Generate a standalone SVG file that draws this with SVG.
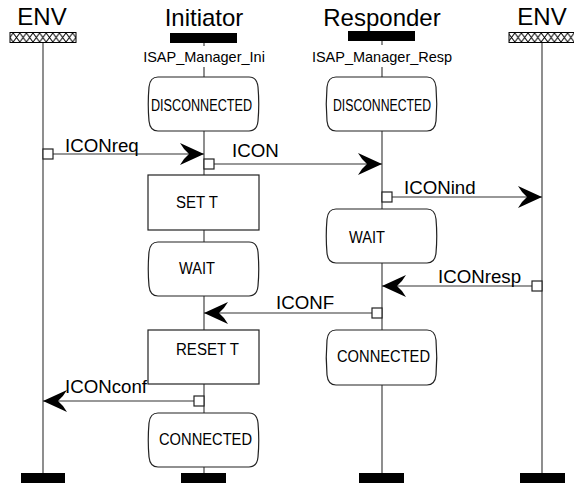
<svg xmlns="http://www.w3.org/2000/svg" width="574" height="483" viewBox="0 0 574 483">
  <style>
    .title { font-family: "Liberation Sans", Arial, sans-serif; font-size: 24px; fill: #000; text-anchor: middle; }
    .inst { font-family: "Liberation Sans", Arial, sans-serif; font-size: 14.5px; fill: #000; text-anchor: middle; }
    .lbl { font-family: "Liberation Sans", Arial, sans-serif; font-size: 18.7px; fill: #000; }
    .box { font-family: "Liberation Sans", Arial, sans-serif; font-size: 16px; fill: #000; }
    .life { stroke: #444; stroke-width: 1.2; fill: none; }
    .shape { fill: #fff; stroke: #222; stroke-width: 1.2; }
    .msg { stroke: #333; stroke-width: 1.2; fill: none; marker-end: url(#head); }
    .port { fill: #fff; stroke: #222; stroke-width: 1.2; }
    .endbar { fill: #000; }
  </style>
  <defs>
    <pattern id="hatch" patternUnits="userSpaceOnUse" x="0" y="33" width="6.6" height="9">
      <rect width="6.6" height="9" fill="#fff"/>
      <path d="M0,0 L6.6,9 M6.6,0 L0,9" stroke="#000" stroke-width="1"/>
    </pattern>
    <marker id="head" markerUnits="userSpaceOnUse" viewBox="-25 -12 26 24" refX="0" refY="0" markerWidth="26" markerHeight="24" orient="auto">
      <path d="M0,0 L-24,-11 Q-20,-4 -15,0 Q-20,4 -24,11 Z" fill="#000"/>
    </marker>
  </defs>

  <!-- environment, left -->
  <g id="env-left">
    <text class="title" x="42" y="25">ENV</text>
    <rect x="10" y="32.5" width="66" height="10" fill="url(#hatch)" stroke="#000" stroke-width="1"/>
    <line class="life" x1="43" y1="43" x2="43" y2="473"/>
    <rect class="endbar" x="21" y="473" width="44" height="10"/>
  </g>

  <!-- Initiator instance -->
  <g id="initiator">
    <text class="title" x="204" y="26">Initiator</text>
    <rect x="170" y="33" width="67" height="10" fill="#000"/>
    <line class="life" x1="204" y1="43" x2="204" y2="46"/>
    <text class="inst" x="204" y="62">ISAP_Manager_Ini</text>
    <line class="life" x1="204" y1="67" x2="204" y2="473"/>
    <rect class="endbar" x="181" y="473" width="45" height="10"/>
  </g>

  <!-- Responder instance -->
  <g id="responder">
    <text class="title" x="382" y="26">Responder</text>
    <rect x="348" y="31" width="67" height="10" fill="#000"/>
    <line class="life" x1="382" y1="41" x2="382" y2="45"/>
    <text class="inst" x="382" y="62">ISAP_Manager_Resp</text>
    <line class="life" x1="382" y1="67" x2="382" y2="473"/>
    <rect class="endbar" x="359" y="473" width="45" height="10"/>
  </g>

  <!-- environment, right -->
  <g id="env-right">
    <text class="title" x="542" y="25">ENV</text>
    <rect x="509" y="32.5" width="66" height="10" fill="url(#hatch)" stroke="#000" stroke-width="1"/>
    <line class="life" x1="542" y1="43" x2="542" y2="473"/>
    <rect class="endbar" x="520" y="473" width="45" height="10"/>
  </g>

  <!-- states and tasks on the Initiator -->
  <g id="ini-disconnected">
    <path class="shape" d="M158,77 H249 Q257,77 258,87 Q259.5,104 258,121 Q257,131 249,131 H158 Q150,131 149,121 Q147.5,104 149,87 Q150,77 158,77 Z"/>
    <text class="box" x="151" y="111" textLength="101" lengthAdjust="spacingAndGlyphs">DISCONNECTED</text>
  </g>
  <g id="ini-set-t">
    <rect class="shape" x="148" y="175" width="111" height="55"/>
    <text class="box" x="176" y="208" textLength="42" lengthAdjust="spacingAndGlyphs">SET T</text>
  </g>
  <g id="ini-wait">
    <path class="shape" d="M158,242 H249 Q257,242 258,252 Q259.5,269 258,286 Q257,296 249,296 H158 Q150,296 149,286 Q147.5,269 149,252 Q150,242 158,242 Z"/>
    <text class="box" x="179" y="274" textLength="36" lengthAdjust="spacingAndGlyphs">WAIT</text>
  </g>
  <g id="ini-reset-t">
    <rect class="shape" x="148" y="330" width="111" height="54"/>
    <text class="box" x="176" y="355" textLength="63" lengthAdjust="spacingAndGlyphs">RESET T</text>
  </g>
  <g id="ini-connected">
    <path class="shape" d="M158,413 H249 Q257,413 258,423 Q259.5,440 258,457 Q257,467 249,467 H158 Q150,467 149,457 Q147.5,440 149,423 Q150,413 158,413 Z"/>
    <text class="box" x="159" y="445" textLength="93" lengthAdjust="spacingAndGlyphs">CONNECTED</text>
  </g>

  <!-- states on the Responder -->
  <g id="resp-disconnected">
    <path class="shape" d="M336,77 H427 Q435,77 436,87 Q437.5,104 436,121 Q435,131 427,131 H336 Q328,131 327,121 Q325.5,104 327,87 Q328,77 336,77 Z"/>
    <text class="box" x="333" y="111" textLength="98" lengthAdjust="spacingAndGlyphs">DISCONNECTED</text>
  </g>
  <g id="resp-wait">
    <path class="shape" d="M336,209 H427 Q435,209 436,219 Q437.5,236 436,253 Q435,263 427,263 H336 Q328,263 327,253 Q325.5,236 327,219 Q328,209 336,209 Z"/>
    <text class="box" x="349" y="243" textLength="36" lengthAdjust="spacingAndGlyphs">WAIT</text>
  </g>
  <g id="resp-connected">
    <path class="shape" d="M336,330 H427 Q435,330 436,340 Q437.5,357.5 436,375 Q435,385 427,385 H336 Q328,385 327,375 Q325.5,357.5 327,340 Q328,330 336,330 Z"/>
    <text class="box" x="337" y="362" textLength="93" lengthAdjust="spacingAndGlyphs">CONNECTED</text>
  </g>

  <!-- messages -->
  <g id="messages">
    <line class="msg" x1="53" y1="154" x2="204" y2="154"/>
    <rect class="port" x="43" y="149" width="10" height="10"/>
    <text class="lbl" x="65" y="152">ICONreq</text>

    <line class="msg" x1="214" y1="164" x2="382" y2="164"/>
    <rect class="port" x="204" y="159" width="10" height="10"/>
    <text class="lbl" x="232" y="157">ICON</text>

    <line class="msg" x1="392" y1="197" x2="542" y2="197"/>
    <rect class="port" x="382" y="192" width="10" height="10"/>
    <text class="lbl" x="404" y="194">ICONind</text>

    <line class="msg" x1="532" y1="286" x2="382" y2="286"/>
    <rect class="port" x="532" y="281" width="10" height="10"/>
    <text class="lbl" x="438" y="283">ICONresp</text>

    <line class="msg" x1="372" y1="313" x2="204" y2="313"/>
    <rect class="port" x="372" y="308" width="10" height="10"/>
    <text class="lbl" x="276" y="309">ICONF</text>

    <line class="msg" x1="194" y1="401" x2="43" y2="401"/>
    <rect class="port" x="194" y="396" width="10" height="10"/>
    <text class="lbl" x="65" y="393">ICONconf</text>
  </g>
</svg>
